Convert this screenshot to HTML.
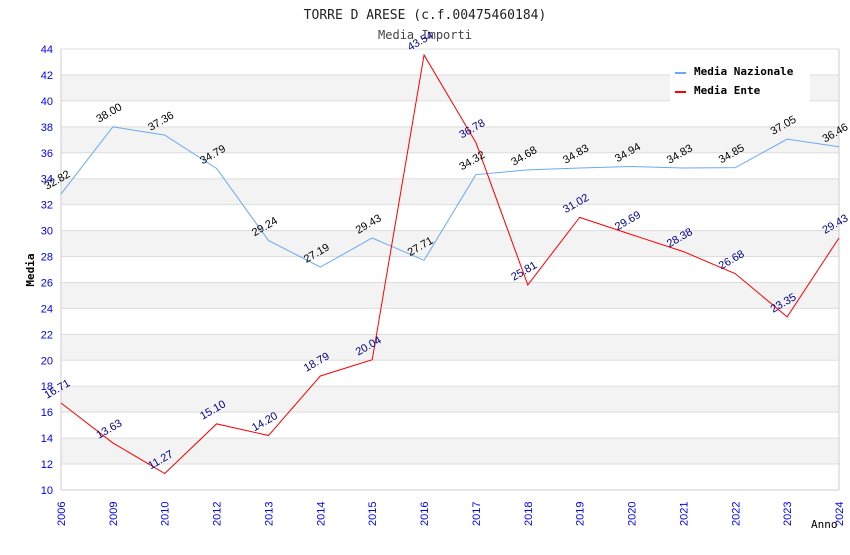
<!DOCTYPE html>
<html><head><meta charset="utf-8"><style>
body{margin:0;background:#fff;width:850px;height:550px;overflow:hidden}
svg text{font-family:"DejaVu Sans Mono","Liberation Mono",monospace}
svg text.s{font-family:"Liberation Sans",Arial,sans-serif}
</style></head><body>
<svg id="chart" width="850" height="550">
<text x="425" y="19" text-anchor="middle" font-size="13" fill="#222">TORRE D ARESE (c.f.00475460184)</text>
<text x="425" y="39" text-anchor="middle" font-size="12" fill="#444">Media Importi</text>
<g id="bands"></g><g id="grid"></g><g id="axes"></g><g id="series"></g><g id="labels"></g>
<text transform="translate(34,270) rotate(-90)" text-anchor="middle" font-size="11" font-weight="bold" fill="#000">Media</text>
<text x="811" y="528" font-size="11" fill="#000">Anno</text>
<g>
<rect x="670" y="60" width="140" height="42" fill="#fff"/>
<line x1="675" y1="73" x2="686" y2="73" stroke="#6aaaf0" stroke-width="2"/>
<text x="694" y="75" font-size="11" font-weight="bold">Media Nazionale</text>
<line x1="675" y1="92" x2="686" y2="92" stroke="#f00" stroke-width="2"/>
<text x="694" y="94" font-size="11" font-weight="bold">Media Ente</text>
</g>
</svg>
<script>
const categories=["2006","2009","2010","2012","2013","2014","2015","2016","2017","2018","2019","2020","2021","2022","2023","2024"];
const nazionale=[32.82,38.00,37.36,34.79,29.24,27.19,29.43,27.71,34.32,34.68,34.83,34.94,34.83,34.85,37.05,36.46];
const ente=[16.71,13.63,11.27,15.10,14.20,18.79,20.04,43.54,36.78,25.81,31.02,29.69,28.38,26.68,23.35,29.43];
const yTicks=[10,12,14,16,18,20,22,24,26,28,30,32,34,36,38,40,42,44];
const NS="http://www.w3.org/2000/svg";
const L=61,R=839,T=49,B=490,ymin=10,ymax=44;
const x=i=>L+i*(R-L)/(categories.length-1);
const y=v=>B-(v-ymin)/(ymax-ymin)*(B-T);
function mk(tag,attrs,parent){const e=document.createElementNS(NS,tag);for(const k in attrs)e.setAttribute(k,attrs[k]);document.getElementById(parent).appendChild(e);return e;}
for(let i=0;i<yTicks.length-1;i++){
 const a=yTicks[i],b=yTicks[i+1];
 const r=mk('rect',{x:L,y:y(b),width:R-L,height:y(a)-y(b),fill:(i%2===1)?'#f3f3f3':'#fff'},'bands');
 
 
}
yTicks.forEach(v=>{
 const l=mk('line',{x1:L,x2:R,y1:y(v),y2:y(v),stroke:'#ddd'},'grid');
 
 
 const t=mk('text',{x:L-8,y:y(v)+4,'text-anchor':'end','font-size':11,fill:'#00f',class:'s'},'axes');
 t.textContent=v;
 
 
});
mk('line',{x1:L,x2:L,y1:T,y2:B,stroke:'#ccc'},'axes');
mk('line',{x1:R,x2:R,y1:T,y2:B,stroke:'#ccc'},'axes');
mk('line',{x1:L,x2:R,y1:B,y2:B,stroke:'#ccc'},'axes');
categories.forEach((c,i)=>{
 const t=mk('text',{transform:`translate(${x(i)+4},${B+36}) rotate(-90)`,'font-size':11,fill:'#00f',class:'s'},'axes');
 t.textContent=c;
 
 
});
function series(data,color,lblColor,name){
 const p=mk('polyline',{points:data.map((v,i)=>x(i)+','+y(v)).join(' '),fill:'none',stroke:color,'stroke-width':1},'series');
 
 
 data.forEach((v,i)=>{
  const t=mk('text',{transform:`translate(${x(i)-14},${y(v)-4}) rotate(-30)`,'font-size':11,fill:lblColor,class:'s'},'labels');
  t.textContent=v.toFixed(2);
  
  
 });
}
series(nazionale,'#6aaaf0','#000','nazionale');
series(ente,'#f00','#00008b','ente');
</script>
</body></html>
